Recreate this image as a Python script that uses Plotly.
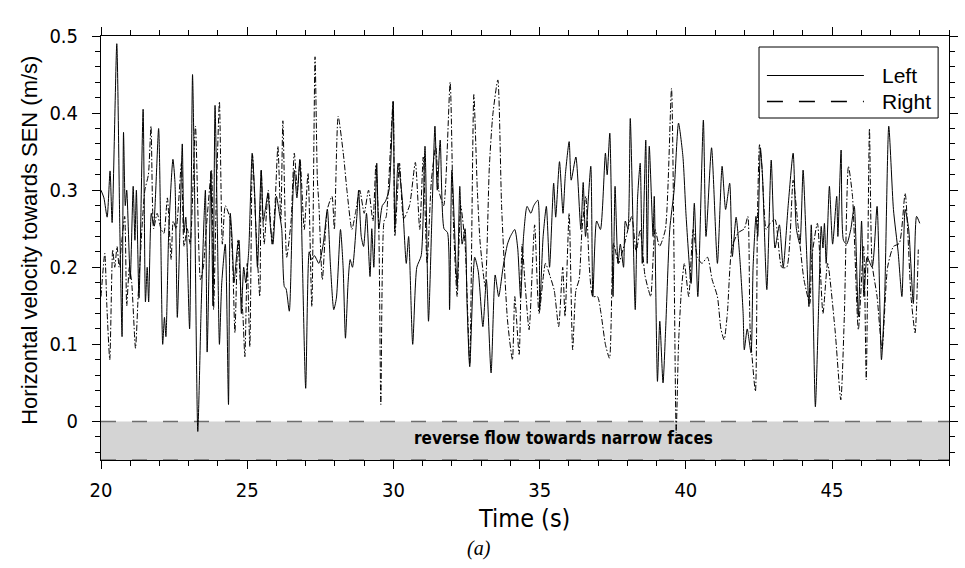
import plotly.graph_objects as go

left_t = [20.00,20.10,20.21,20.31,20.38,20.54,20.64,20.72,20.77,20.83,20.88,21.00,21.10,21.16,21.21,21.30,21.44,21.52,21.58,21.63,21.72,21.80,21.97,22.04,22.11,22.17,22.22,22.32,22.46,22.53,22.61,22.70,22.78,22.84,22.90,23.03,23.13,23.20,23.31,23.42,23.52,23.57,23.63,23.70,23.76,23.83,23.90,23.98,24.05,24.13,24.25,24.36,24.42,24.48,24.55,24.65,24.72,24.80,24.88,24.95,25.05,25.17,25.25,25.35,25.48,25.55,25.62,25.71,25.80,25.88,26.00,26.10,26.18,26.27,26.33,26.44,26.55,26.61,26.70,26.80,26.88,27.00,27.12,27.20,27.30,27.45,27.60,27.74,27.85,27.96,28.05,28.19,28.28,28.36,28.45,28.52,28.60,28.75,28.81,28.90,28.98,29.08,29.20,29.26,29.33,29.43,29.50,29.62,29.72,29.85,29.99,30.05,30.16,30.30,30.44,30.52,30.66,30.80,30.95,31.08,31.20,31.32,31.42,31.50,31.60,31.73,31.85,31.92,32.00,32.18,32.27,32.35,32.45,32.52,32.61,32.78,32.90,33.06,33.18,33.34,33.48,33.60,33.75,33.90,34.00,34.15,34.25,34.35,34.45,34.57,34.70,34.80,34.94,35.00,35.12,35.23,35.34,35.48,35.55,35.68,35.80,35.88,36.01,36.08,36.24,36.41,36.49,36.57,36.75,36.82,36.95,37.08,37.25,37.31,37.40,37.51,37.58,37.68,37.76,37.87,37.93,38.02,38.10,38.27,38.35,38.44,38.51,38.63,38.68,38.75,38.88,38.92,39.03,39.11,39.22,39.31,39.45,39.60,39.75,39.90,40.01,40.18,40.29,40.41,40.60,40.69,40.88,41.08,41.24,41.36,41.50,41.59,41.72,41.85,41.96,42.00,42.10,42.23,42.30,42.40,42.46,42.55,42.62,42.77,42.92,43.05,43.20,43.33,43.50,43.67,43.78,43.90,44.01,44.12,44.21,44.29,44.43,44.55,44.63,44.69,44.74,44.80,44.91,45.02,45.16,45.20,45.31,45.39,45.50,45.64,45.76,45.90,46.01,46.09,46.20,46.37,46.54,46.69,46.80,46.94,47.10,47.26,47.39,47.50,47.62,47.78,47.89,48.00]
left_v = [0.300,0.290,0.265,0.325,0.258,0.490,0.260,0.110,0.375,0.280,0.300,0.185,0.305,0.235,0.300,0.160,0.405,0.155,0.200,0.155,0.270,0.255,0.380,0.250,0.100,0.135,0.110,0.250,0.340,0.310,0.135,0.250,0.360,0.245,0.265,0.120,0.450,0.300,-0.013,0.140,0.260,0.300,0.090,0.210,0.325,0.150,0.410,0.250,0.100,0.180,0.230,0.022,0.270,0.240,0.180,0.220,0.235,0.140,0.200,0.180,0.220,0.348,0.300,0.200,0.326,0.260,0.275,0.296,0.250,0.230,0.292,0.270,0.250,0.175,0.172,0.143,0.280,0.326,0.290,0.340,0.220,0.043,0.220,0.210,0.215,0.205,0.230,0.275,0.200,0.145,0.160,0.249,0.200,0.108,0.180,0.210,0.200,0.266,0.300,0.240,0.227,0.270,0.188,0.250,0.200,0.335,0.250,0.280,0.285,0.300,0.415,0.250,0.335,0.290,0.205,0.240,0.100,0.200,0.215,0.357,0.130,0.270,0.383,0.300,0.365,0.250,0.245,0.145,0.326,0.175,0.305,0.230,0.250,0.150,0.071,0.213,0.195,0.123,0.184,0.063,0.190,0.162,0.200,0.230,0.240,0.249,0.225,0.160,0.240,0.279,0.270,0.280,0.287,0.145,0.240,0.279,0.200,0.309,0.265,0.337,0.270,0.320,0.363,0.313,0.343,0.249,0.310,0.240,0.331,0.162,0.260,0.249,0.348,0.320,0.374,0.162,0.305,0.205,0.230,0.200,0.260,0.250,0.393,0.145,0.290,0.335,0.205,0.365,0.205,0.357,0.240,0.292,0.052,0.130,0.050,0.120,0.249,0.300,0.387,0.344,0.266,0.179,0.283,0.162,0.391,0.240,0.355,0.205,0.331,0.275,0.309,0.214,0.265,0.210,0.140,0.093,0.120,0.089,0.200,0.266,0.240,0.355,0.320,0.171,0.339,0.225,0.255,0.200,0.280,0.348,0.250,0.230,0.326,0.230,0.149,0.255,0.019,0.160,0.253,0.225,0.257,0.205,0.305,0.230,0.292,0.240,0.352,0.235,0.230,0.249,0.279,0.136,0.260,0.162,0.213,0.200,0.279,0.080,0.162,0.383,0.275,0.220,0.162,0.275,0.250,0.153,0.266,0.257]

right_t = [20.00,20.13,20.20,20.30,20.40,20.47,20.55,20.62,20.70,20.81,20.88,20.97,21.05,21.18,21.27,21.40,21.50,21.62,21.71,21.80,21.92,22.05,22.15,22.27,22.40,22.47,22.57,22.75,22.84,22.95,23.05,23.23,23.40,23.50,23.60,23.78,23.85,23.95,24.05,24.15,24.25,24.40,24.50,24.58,24.68,24.78,24.85,24.92,25.00,25.09,25.18,25.30,25.43,25.48,25.58,25.72,25.85,25.95,26.05,26.15,26.22,26.35,26.50,26.61,26.72,26.81,26.95,27.08,27.21,27.32,27.40,27.45,27.57,27.74,27.90,27.98,28.11,28.30,28.41,28.58,28.70,28.85,29.00,29.15,29.30,29.40,29.50,29.57,29.68,29.75,29.99,30.05,30.21,30.35,30.55,30.75,30.90,31.02,31.15,31.30,31.45,31.55,31.72,31.94,32.05,32.18,32.30,32.45,32.61,32.75,32.87,32.97,33.14,33.28,33.40,33.57,33.70,33.90,34.07,34.15,34.30,34.40,34.50,34.64,34.83,34.98,35.20,35.36,35.50,35.65,35.79,35.87,36.01,36.13,36.24,36.35,36.45,36.58,36.70,36.82,36.98,37.10,37.25,37.39,37.53,37.70,37.90,38.15,38.30,38.44,38.60,38.72,38.80,38.95,39.10,39.30,39.51,39.60,39.67,39.75,39.85,39.95,40.10,40.25,40.40,40.55,40.74,40.90,41.08,41.20,41.31,41.42,41.58,41.80,42.00,42.12,42.20,42.38,42.45,42.52,42.60,42.75,42.88,43.05,43.28,43.45,43.67,43.83,44.04,44.24,44.30,44.50,44.69,44.85,45.10,45.30,45.42,45.56,45.70,45.90,46.08,46.17,46.28,46.37,46.54,46.71,46.90,47.10,47.30,47.50,47.70,47.84,47.95]
right_v = [0.162,0.218,0.150,0.080,0.223,0.200,0.227,0.200,0.230,0.266,0.150,0.200,0.180,0.095,0.162,0.250,0.300,0.320,0.383,0.250,0.270,0.250,0.244,0.290,0.210,0.260,0.250,0.335,0.227,0.250,0.230,0.383,0.184,0.200,0.250,0.326,0.145,0.300,0.415,0.230,0.280,0.265,0.210,0.115,0.236,0.170,0.140,0.084,0.205,0.097,0.346,0.250,0.162,0.326,0.230,0.300,0.230,0.280,0.357,0.260,0.390,0.213,0.260,0.348,0.300,0.339,0.249,0.322,0.149,0.473,0.313,0.283,0.184,0.275,0.292,0.249,0.396,0.343,0.300,0.249,0.270,0.300,0.270,0.300,0.260,0.333,0.250,0.022,0.260,0.265,0.415,0.240,0.335,0.263,0.280,0.336,0.249,0.343,0.205,0.313,0.357,0.300,0.280,0.440,0.260,0.162,0.280,0.230,0.076,0.424,0.300,0.230,0.175,0.330,0.398,0.443,0.279,0.132,0.080,0.162,0.087,0.230,0.180,0.119,0.255,0.140,0.205,0.188,0.170,0.123,0.200,0.136,0.270,0.093,0.170,0.184,0.249,0.292,0.200,0.162,0.162,0.140,0.100,0.082,0.231,0.205,0.230,0.266,0.220,0.249,0.190,0.171,0.162,0.249,0.227,0.249,0.432,0.200,-0.015,0.100,0.171,0.205,0.162,0.249,0.213,0.205,0.213,0.184,0.162,0.120,0.106,0.140,0.227,0.245,0.250,0.266,0.119,0.039,0.266,0.359,0.331,0.249,0.257,0.262,0.200,0.200,0.313,0.257,0.184,0.153,0.210,0.257,0.140,0.205,0.120,0.028,0.136,0.331,0.292,0.119,0.227,0.054,0.380,0.205,0.162,0.093,0.200,0.227,0.231,0.296,0.162,0.115,0.223]

series_names = ["Left", "Right"]
x_title = "Time (s)"
y_title = "Horizontal velocity towards SEN (m/s)"
band_label = "reverse flow towards narrow faces"
panel_label = "(a)"

NARROW = "DejaVu Sans Condensed, Liberation Sans Narrow, Liberation Sans, Arial, sans-serif"
SANS = "Liberation Sans, Arial, sans-serif"

fig = go.Figure()
fig.add_trace(go.Scatter(x=left_t, y=left_v, mode="lines", name=series_names[0],
                         line=dict(color="black", width=1, shape="spline", smoothing=0.6),
                         showlegend=False))
fig.add_trace(go.Scatter(x=right_t, y=right_v, mode="lines", name=series_names[1],
                         line=dict(color="black", width=1, shape="spline", smoothing=0.6,
                                   dash="6px,2px,1.5px,2px"),
                         showlegend=False))

# gray reverse-flow band
fig.add_shape(type="rect", xref="x", yref="y", x0=20, x1=49, y0=-0.05, y1=0,
              fillcolor="#d4d4d4", line=dict(width=0), layer="below")
for yy in (0, -0.05):
    fig.add_shape(type="line", xref="x", yref="y", x0=20, x1=49, y0=yy, y1=yy,
                  line=dict(color="#6e6e6e", width=1.5, dash="15px,16px"), layer="below")
fig.add_annotation(x=35.8, y=-0.021, xref="x", yref="y", text="<b>" + band_label + "</b>",
                   showarrow=False, xanchor="center", yanchor="middle",
                   font=dict(family=NARROW, size=17, color="black"))

# manual legend
W, H = 965, 568
L, R, T, B = 101, 7, 36, 108
pw, ph = W - L - R, H - T - B
def px(x):
    return (x - L) / pw
def py(y):
    return (H - B - y) / ph
fig.add_shape(type="rect", xref="paper", yref="paper", x0=px(766), x1=px(947), y0=py(118), y1=py(47),
              line=dict(color="black", width=1), fillcolor="white")
fig.add_shape(type="line", xref="paper", yref="paper", x0=px(774), x1=px(872), y0=py(75.5), y1=py(75.5),
              line=dict(color="black", width=1))
fig.add_shape(type="line", xref="paper", yref="paper", x0=px(774), x1=px(872), y0=py(101.5), y1=py(101.5),
              line=dict(color="black", width=1.3, dash="16px,16px"))
fig.add_annotation(x=px(888), y=py(75.5), xref="paper", yref="paper", text=series_names[0],
                   showarrow=False, xanchor="left", yanchor="middle", font=dict(family=SANS, size=21, color="black"))
fig.add_annotation(x=px(888), y=py(101.5), xref="paper", yref="paper", text=series_names[1],
                   showarrow=False, xanchor="left", yanchor="middle", font=dict(family=SANS, size=21, color="black"))

# titles
fig.add_annotation(x=px(28), y=py(240), xref="paper", yref="paper", text=y_title, textangle=-90,
                   showarrow=False, xanchor="center", yanchor="middle",
                   font=dict(family=SANS, size=22, color="black"))
fig.add_annotation(x=px(528), y=py(518), xref="paper", yref="paper", text=x_title,
                   showarrow=False, xanchor="center", yanchor="middle",
                   font=dict(family=NARROW, size=25, color="black"))
fig.add_annotation(x=px(483), y=py(548), xref="paper", yref="paper", text="<i>" + panel_label + "</i>",
                   showarrow=False, xanchor="center", yanchor="middle",
                   font=dict(family="Liberation Serif, Times New Roman, serif", size=20, color="black"))

axis_common = dict(showline=True, linecolor="black", linewidth=1, mirror="ticks", ticks="outside",
                   ticklen=8, tickcolor="black", showgrid=False, zeroline=False,
                   tickfont=dict(family=NARROW, size=20, color="black"))
fig.update_xaxes(range=[20, 49], tick0=20, dtick=5, ticklabelstandoff=4,
                 minor=dict(dtick=1, ticks="outside", ticklen=5, tickcolor="black"), **axis_common)
fig.update_yaxes(range=[-0.05, 0.5], tick0=0, dtick=0.1, ticklabelstandoff=10,
                 minor=dict(dtick=0.02, ticks="outside", ticklen=5, tickcolor="black"), **axis_common)

fig.update_layout(width=W, height=H, margin=dict(l=L, r=R, t=T, b=B),
                  plot_bgcolor="white", paper_bgcolor="white", showlegend=False)
fig.write_html("out.html")
